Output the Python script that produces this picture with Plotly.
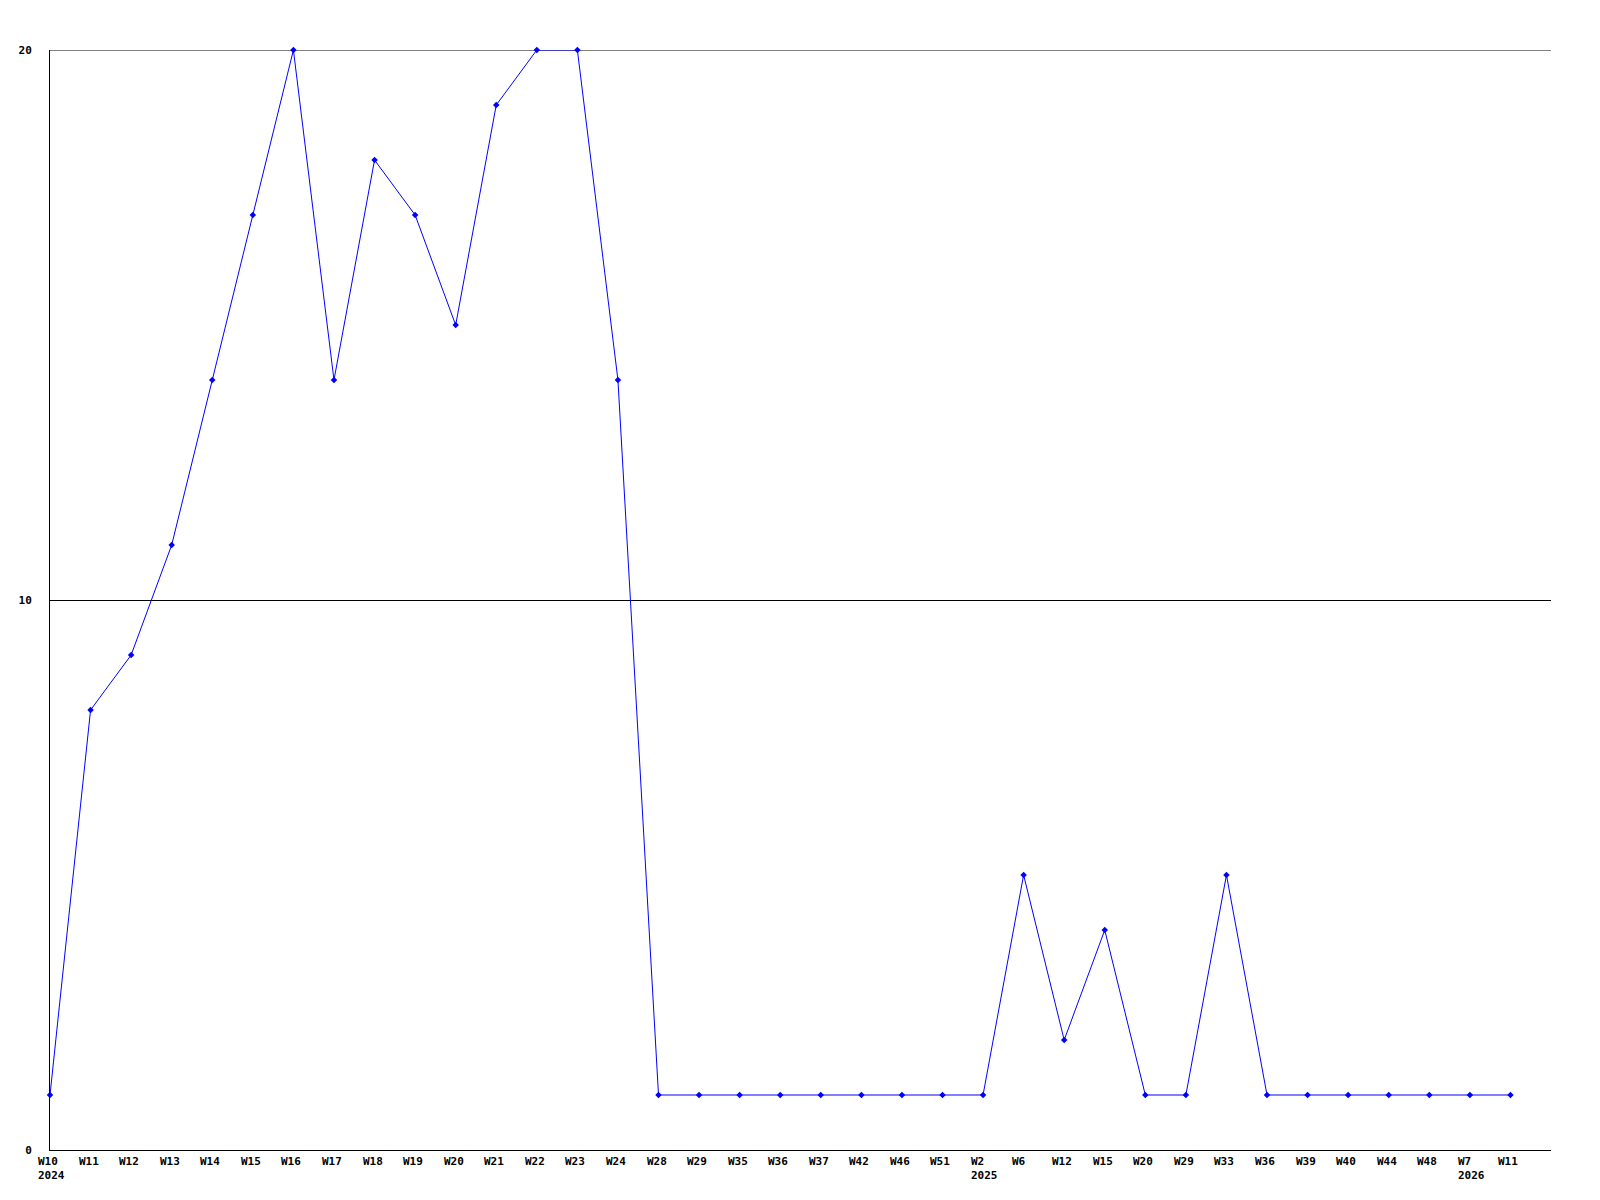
import plotly.graph_objects as go

weeks = ["W10", "W11", "W12", "W13", "W14", "W15", "W16", "W17", "W18", "W19",
         "W20", "W21", "W22", "W23", "W24", "W28", "W29", "W35", "W36", "W37",
         "W42", "W46", "W51", "W2", "W6", "W12", "W15", "W20", "W29", "W33",
         "W36", "W39", "W40", "W44", "W48", "W7", "W11"]
years = ["2024", "", "", "", "", "", "", "", "", "",
         "", "", "", "", "", "", "", "", "", "",
         "", "", "", "2025", "", "", "", "", "", "",
         "", "", "", "", "", "2026", ""]
values = [1, 8, 9, 11, 14, 17, 20, 14, 18, 17,
          15, 19, 20, 20, 14, 1, 1, 1, 1, 1,
          1, 1, 1, 1, 5, 2, 4, 1, 1, 5,
          1, 1, 1, 1, 1, 1, 1]
y_ticks = [0, 10, 20]

idx = list(range(len(weeks)))
FONT = "DejaVu Sans Mono"

fig = go.Figure()
fig.add_trace(go.Scatter(
    x=idx, y=values, mode="lines+markers",
    line=dict(color="#0000FF", width=1),
    marker=dict(color="#0000FF", symbol="diamond", size=5),
    hoverinfo="skip", showlegend=False, cliponaxis=False,
))

annotations = []
for i, (w, yr) in enumerate(zip(weeks, years)):
    text = w if not yr else f"{w}<br>{yr}"
    annotations.append(dict(
        x=i, y=0, xref="x", yref="y", text=text, showarrow=False,
        xanchor="left", yanchor="top", align="left", xshift=-14, yshift=-3,
        font=dict(family=FONT, size=11, color="black", weight="bold"),
    ))

fig.update_layout(
    width=1584, height=1184,
    margin=dict(l=42, r=41, t=42, b=42, autoexpand=False),
    paper_bgcolor="white", plot_bgcolor="white",
    annotations=annotations,
    shapes=[dict(type="line", xref="paper", x0=0, x1=1, yref="y",
                 y0=max(y_ticks), y1=max(y_ticks),
                 line=dict(color="black", width=1), layer="below")],
    xaxis=dict(range=[0, len(weeks)], showgrid=False, zeroline=False,
               showticklabels=False, ticks="", showline=True, automargin=False,
               linecolor="black", linewidth=1, fixedrange=True),
    yaxis=dict(range=[0, 20], tickvals=y_ticks, showgrid=True, automargin=False,
               gridcolor="black", gridwidth=1, zeroline=False,
               showline=True, linecolor="black", linewidth=1, ticks="",
               ticklabelstandoff=15,
               tickfont=dict(family=FONT, size=11, color="black", weight="bold")),
)

fig.write_html("out.html")
